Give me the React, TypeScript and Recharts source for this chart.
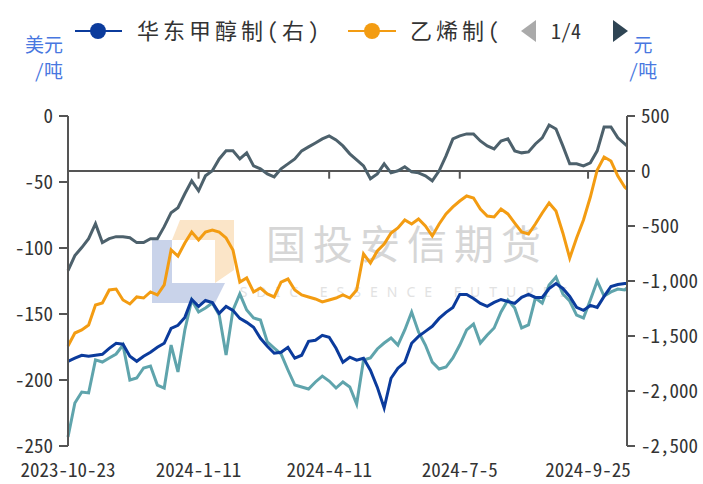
import React from 'react';
import { LineChart, Line, XAxis, YAxis, ReferenceLine } from 'recharts';

// ---- categories (Chinese trading days) ----
const START_DATE = '2023-10-23';
const DAY_COUNT = 245;
const HOLIDAYS = [
  '2024-01-01',
  '2024-02-09', '2024-02-12', '2024-02-13', '2024-02-14', '2024-02-15', '2024-02-16',
  '2024-04-04', '2024-04-05',
  '2024-05-01', '2024-05-02', '2024-05-03',
  '2024-06-10',
  '2024-09-16', '2024-09-17',
  '2024-10-01', '2024-10-02', '2024-10-03', '2024-10-04', '2024-10-07',
];
const TICK_LABELS = ['2023-10-23', '2024-1-11', '2024-4-11', '2024-7-5', '2024-9-25'];
const LEFT_TICKS = [0, -50, -100, -150, -200, -250];
const RIGHT_TICKS = [500, 0, -500, -1000, -1500, -2000, -2500];

function buildTradingDays(): string[] {
  const out: string[] = [];
  const d = new Date(START_DATE + 'T00:00:00Z');
  while (out.length < DAY_COUNT) {
    const wd = d.getUTCDay();
    const iso = d.toISOString().slice(0, 10);
    if (wd !== 0 && wd !== 6 && !HOLIDAYS.includes(iso)) {
      out.push(`${d.getUTCFullYear()}-${d.getUTCMonth() + 1}-${d.getUTCDate()}`);
    }
    d.setUTCDate(d.getUTCDate() + 1);
  }
  return out;
}
const DATES = buildTradingDays();

// sampled trading-day positions (every 3rd trading day, plus the last one)
const SAMPLE_IDX: number[] = [];
for (let i = 0; i < DAY_COUNT; i += 3) SAMPLE_IDX.push(i);
SAMPLE_IDX.push(DAY_COUNT - 1);

// ---- series values ----
// 华东甲醇制(右)  元/吨, right axis
const NAVY = [
  -1730, -1702, -1675, -1684, -1675, -1666, -1612, -1566, -1575, -1684,
  -1730, -1684, -1648, -1603, -1566, -1430, -1403, -1331, -1168, -1231,
  -1177, -1195, -1294, -1231, -1267, -1340, -1376, -1421, -1521, -1594,
  -1657, -1648, -1603, -1702, -1675, -1548, -1539, -1494, -1512, -1612,
  -1739, -1693, -1720, -1702, -1811, -1965, -2155, -1884, -1793, -1739,
  -1566, -1503, -1458, -1412, -1340, -1285, -1240, -1122, -1122, -1159,
  -1204, -1231, -1195, -1168, -1186, -1204, -1149, -1122, -1149, -1149,
  -1068, -1023, -1068, -1140, -1240, -1267, -1222, -1240, -1140, -1050,
  -1032, -1023, -1023,
];
// 乙烯制  美元/吨, left axis
const ORANGE = [
  -174.2, -164.4, -162.1, -158.3, -143.2, -141.7, -131.8, -131.1, -139.4, -142.4,
  -137.1, -137.9, -133.3, -135.6, -128.0, -101.5, -106.1, -96.2, -87.9, -93.9,
  -87.9, -86.4, -87.9, -92.4, -101.5, -125.8, -122.7, -133.3, -130.3, -134.8,
  -137.1, -125.8, -123.5, -131.8, -135.6, -137.1, -138.6, -140.9, -139.4, -137.9,
  -135.6, -137.9, -131.8, -104.5, -111.4, -102.3, -97.0, -88.6, -84.8, -78.8,
  -81.8, -78.0, -83.3, -90.9, -81.8, -74.2, -68.9, -64.4, -60.6, -62.1,
  -70.5, -75.8, -76.5, -70.5, -74.2, -81.1, -87.9, -89.4, -81.8, -73.5,
  -65.9, -72.0, -88.6, -107.6, -92.4, -78.8, -61.4, -40.9, -31.1, -34.1,
  -45.5, -53.8, -55.3,
];
// third series, 元/吨, right axis
const SLATE = [
  -905, -769, -696, -615, -479, -651, -615, -597, -597, -606,
  -651, -651, -615, -615, -506, -379, -334, -207, -89, -180,
  -44, 2, 110, 183, 183, 110, 165, 47, 20, -26,
  -53, 20, 65, 110, 183, 219, 255, 292, 319, 282,
  228, 156, 101, 47, -71, -26, 65, -17, 2, 38,
  -8, -17, -44, -89, 2, 137, 292, 319, 337, 337,
  273, 228, 201, 273, 292, 183, 165, 174, 246, 301,
  418, 382, 228, 65, 65, 47, 74, 183, 400, 400,
  301, 246, 228,
];
// fourth series, 美元/吨, left axis
const TEAL = [
  -243.2, -217.4, -209.1, -209.8, -184.8, -186.4, -183.3, -180.3, -173.5, -200.0,
  -198.5, -190.9, -189.4, -203.8, -206.1, -173.5, -193.9, -162.1, -139.4, -148.5,
  -145.5, -141.7, -150.8, -181.1, -147.0, -134.8, -147.0, -153.0, -154.5, -171.2,
  -175.8, -180.3, -192.4, -203.8, -205.3, -206.8, -201.5, -197.0, -200.8, -206.1,
  -201.5, -205.3, -218.2, -184.8, -183.3, -176.5, -172.0, -168.2, -173.5, -162.1,
  -148.5, -163.6, -173.5, -186.4, -191.7, -190.2, -183.3, -173.5, -162.1, -157.6,
  -172.0, -165.9, -160.6, -148.5, -139.4, -145.5, -160.6, -158.3, -137.9, -141.7,
  -128.0, -122.0, -134.8, -140.2, -150.8, -153.0, -139.4, -125.0, -136.4, -133.3,
  -131.1, -131.8, -130.3,
];

const data = SAMPLE_IDX.map((idx, k) => ({
  idx,
  date: DATES[idx],
  navy: NAVY[k],
  orange: ORANGE[k],
  slate: SLATE[k],
  teal: TEAL[k],
}));

const TICK_IDX = TICK_LABELS.map((l) => {
  const i = DATES.indexOf(l);
  return i < 0 ? 0 : i;
});

const FONT = "'Noto Sans Mono CJK SC', 'Noto Sans CJK SC', sans-serif";
const AXIS_COLOR = '#555';
const TEXT_COLOR = '#333';
const UNIT_COLOR = '#4877e0';

const XTick = (props: any) => {
  const { x, y, payload } = props;
  return (
    <text x={x} y={y} dy={31} textAnchor="middle" fill={TEXT_COLOR} fontSize={19} fontFamily={FONT}>
      {DATES[payload.value]}
    </text>
  );
};

export default function App() {
  return (
    <div style={{ position: 'absolute', left: 0, top: 0, width: 703, height: 484, background: '#fff', overflow: 'hidden' }}>
      {/* watermark */}
      <svg width={703} height={484} style={{ position: 'absolute', left: 0, top: 0 }}>
        <polygon points="152,240 172,240 172,283 225,283 215,303 152,303" fill="#c9d3ea" />
        <polygon points="180,220 234,220 234,270 215,283 215,240 172,240" fill="#fbe5c8" />
        <text x={407} y={259} textAnchor="middle" fontSize={40} letterSpacing={7} fill="#d6d6d6" fontFamily="'Noto Sans CJK SC', sans-serif">国投安信期货</text>
        <text x={408} y={297} textAnchor="middle" fontSize={14} letterSpacing={9} fill="#e2e2e2" fontFamily="'Noto Sans', sans-serif">SDIC ESSENCE FUTURES</text>
      </svg>
      <div style={{ position: 'absolute', left: 0, top: 0 }}>
        <LineChart width={703} height={484} data={data} margin={{ top: 116, right: 0, bottom: 0, left: 0 }}>
          <XAxis
            dataKey="idx"
            type="number"
            domain={[0, DAY_COUNT - 1]}
            ticks={TICK_IDX}
            interval={0}
            height={38}
            axisLine={false}
            tickLine={false}
            tickSize={0}
            tickMargin={0}
            tick={<XTick />}
          />
          <YAxis
            yAxisId="left"
            orientation="left"
            width={68}
            domain={[-250, 0]}
            ticks={LEFT_TICKS}
            interval={0}
            axisLine={{ stroke: AXIS_COLOR, strokeWidth: 2 }}
            tickLine={{ stroke: AXIS_COLOR, strokeWidth: 2 }}
            tickSize={9}
            tickMargin={6}
            tick={{ fill: TEXT_COLOR, fontSize: 19, fontFamily: FONT }}
          />
          <YAxis
            yAxisId="right"
            orientation="right"
            width={76}
            domain={[-2500, 500]}
            ticks={RIGHT_TICKS}
            interval={0}
            axisLine={{ stroke: AXIS_COLOR, strokeWidth: 2 }}
            tickLine={{ stroke: AXIS_COLOR, strokeWidth: 2 }}
            tickSize={8}
            tickMargin={6}
            tickFormatter={(v: number) => v.toLocaleString('en-US')}
            tick={{ fill: TEXT_COLOR, fontSize: 19, fontFamily: FONT }}
          />
          <ReferenceLine yAxisId="right" y={0} stroke={AXIS_COLOR} strokeWidth={2} />
          {TICK_IDX.slice(1).map((t) => (
            <ReferenceLine
              key={t}
              yAxisId="right"
              segment={[{ x: t, y: 0 }, { x: t, y: -70 }]}
              stroke={AXIS_COLOR}
              strokeWidth={2}
            />
          ))}
          <Line yAxisId="left" dataKey="teal" name="系列4" stroke="#5fa4ac" strokeWidth={3} dot={false} isAnimationActive={false} />
          <Line yAxisId="right" dataKey="navy" name="华东甲醇制(右)" stroke="#0b3b9c" strokeWidth={3} dot={false} isAnimationActive={false} />
          <Line yAxisId="left" dataKey="orange" name="乙烯制" stroke="#f39c12" strokeWidth={3} dot={false} isAnimationActive={false} />
          <Line yAxisId="right" dataKey="slate" name="系列3" stroke="#4d616c" strokeWidth={3} dot={false} isAnimationActive={false} />
        </LineChart>
      </div>
      {/* legend, pager and units */}
      <svg width={703} height={110} style={{ position: 'absolute', left: 0, top: 0 }}>
        <line x1={75} x2={122} y1={31} y2={31} stroke="#0b3b9c" strokeWidth={2} />
        <circle cx={98} cy={31} r={8} fill="#0b3b9c" />
        <text x={137} y={39} fontSize={22} letterSpacing={4} fill={TEXT_COLOR} fontFamily={FONT}>华东甲醇制(右)</text>
        <line x1={348} x2={396} y1={31} y2={31} stroke="#f39c12" strokeWidth={2} />
        <circle cx={372} cy={31} r={8} fill="#f39c12" />
        <text x={410} y={39} fontSize={22} letterSpacing={4} fill={TEXT_COLOR} fontFamily={FONT}>乙烯制(</text>
        <polygon points="521,31 536,20 536,42" fill="#aaaaaa" />
        <text x={551} y={39} fontSize={20} fill={TEXT_COLOR} fontFamily={FONT}>1/4</text>
        <polygon points="628,31 613,20 613,42" fill="#2f4554" />
        <text x={63} y={52} textAnchor="end" fontSize={19} fill={UNIT_COLOR} fontFamily={FONT}>美元</text>
        <text x={63} y={78} textAnchor="end" fontSize={19} fill={UNIT_COLOR} fontFamily={FONT}>/吨</text>
        <text x={643} y={52} textAnchor="middle" fontSize={19} fill={UNIT_COLOR} fontFamily={FONT}>元</text>
        <text x={643} y={78} textAnchor="middle" fontSize={19} fill={UNIT_COLOR} fontFamily={FONT}>/吨</text>
      </svg>
    </div>
  );
}
